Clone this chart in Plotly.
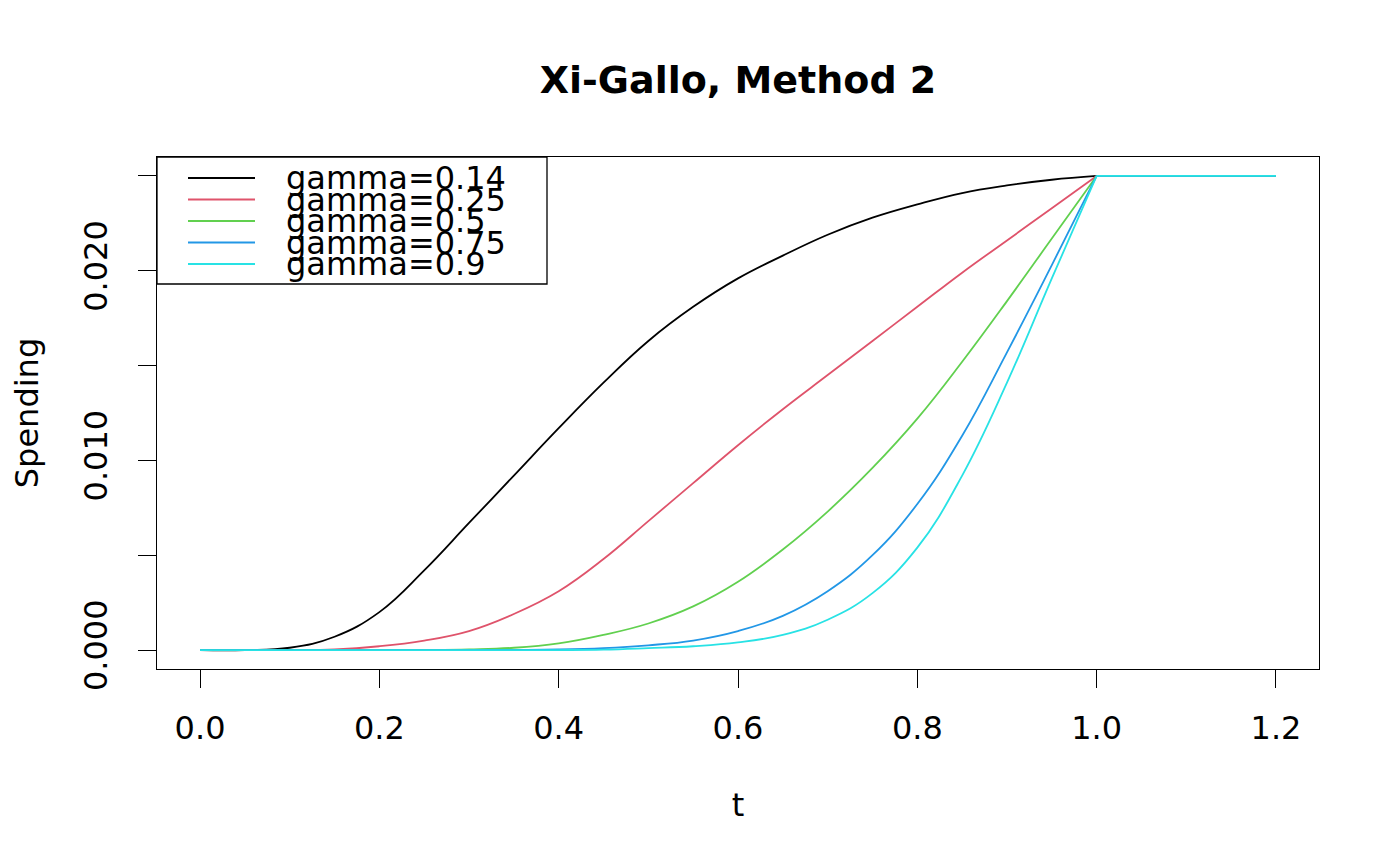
import plotly.graph_objects as go

# ---- data ----
t_vals = [0.0, 0.05, 0.1, 0.15, 0.2, 0.25, 0.3, 0.35, 0.4, 0.45, 0.5,
          0.55, 0.6, 0.65, 0.7, 0.75, 0.8, 0.85, 0.9, 0.95, 1.0, 1.2]

g014 = [0, 0, 0.00012, 0.0007, 0.0020, 0.0042, 0.0067, 0.0092, 0.0117, 0.0141, 0.0163,
        0.0181, 0.0196, 0.0208, 0.0219, 0.0228, 0.0235, 0.0241, 0.0245, 0.0248, 0.025, 0.025]
g025 = [0, 0, 0, 0.00003, 0.0002, 0.0005, 0.0010, 0.0019, 0.0031, 0.0048, 0.0068,
        0.0088, 0.0108, 0.0127, 0.0145, 0.0163, 0.0181, 0.0199, 0.0216, 0.0233, 0.025, 0.025]
g050 = [0, 0, 0, 0, 0, 0.00001, 0.00004, 0.00012, 0.00035, 0.0008, 0.0014,
        0.0023, 0.0036, 0.0053, 0.0073, 0.0096, 0.0122, 0.0152, 0.0184, 0.0217, 0.025, 0.025]
g075 = [0, 0, 0, 0, 0, 0, 0, 0.00001, 0.00003, 0.0001, 0.00025,
        0.0005, 0.0010, 0.0018, 0.0031, 0.0050, 0.0077, 0.0113, 0.0157, 0.0203, 0.025, 0.025]
g090 = [0, 0, 0, 0, 0, 0, 0, 0, 0, 0.00002, 0.0001,
        0.0002, 0.0004, 0.0008, 0.0016, 0.0030, 0.0054, 0.0092, 0.0141, 0.0196, 0.025, 0.025]

series_names = ["gamma=0.14", "gamma=0.25", "gamma=0.5", "gamma=0.75", "gamma=0.9"]
series_vals = [g014, g025, g050, g075, g090]
colors = ["#000000", "#DF536B", "#61D04F", "#2297E6", "#28E2E5"]

y_tickvals = [0.0, 0.005, 0.010, 0.015, 0.020, 0.025]
y_ticktext = ["0.000", "", "0.010", "", "0.020", ""]
x_tickvals = [0.0, 0.2, 0.4, 0.6, 0.8, 1.0, 1.2]
x_ticktext = ["0.0", "0.2", "0.4", "0.6", "0.8", "1.0", "1.2"]

FONT = "DejaVu Sans"
FS = 32
OFF = 8  # page offset of the figure inside the browser window
W, H = 1384, 850
L, T = 157 - OFF, 157 - OFF
R = W - (1319 - OFF)
B = H - (669 - OFF)
pw, ph = W - L - R, H - T - B

fig = go.Figure()
for name, vals, col in zip(series_names, series_vals, colors):
    # curved part up to t = 1
    fig.add_trace(go.Scatter(x=t_vals[:-1], y=vals[:-1], mode="lines", name=name,
                             line=dict(color=col, width=1.8, shape="spline", smoothing=1.2),
                             showlegend=False))
    # flat part after t = 1
    fig.add_trace(go.Scatter(x=t_vals[-2:], y=vals[-2:], mode="lines", name=name,
                             line=dict(color=col, width=1.8), showlegend=False))

def px2paper_x(px):
    return (px - OFF - L) / pw

def py2paper_y(py):
    return (H - B - (py - OFF)) / ph

shapes = []
annotations = []
# legend box
shapes.append(dict(type="rect", xref="paper", yref="paper",
                   x0=0, x1=px2paper_x(547), y0=py2paper_y(284), y1=1.0,
                   line=dict(color="black", width=1.3), fillcolor="white", layer="below"))
row_py = [178, 199.5, 221, 242.5, 264]
for name, col, rp in zip(series_names, colors, row_py):
    shapes.append(dict(type="line", xref="paper", yref="paper",
                       x0=px2paper_x(188), x1=px2paper_x(255),
                       y0=py2paper_y(rp), y1=py2paper_y(rp),
                       line=dict(color=col, width=1.8)))
    annotations.append(dict(xref="paper", yref="paper", x=px2paper_x(284), y=py2paper_y(rp),
                            text=name, showarrow=False, xanchor="left", yanchor="middle",
                            font=dict(family=FONT, size=FS, color="black")))

fig.update_layout(
    width=W, height=H,
    margin=dict(l=L, r=R, t=T, b=B, autoexpand=False),
    paper_bgcolor="white", plot_bgcolor="white",
    font=dict(family=FONT, size=FS, color="black"),
    title=dict(text="<b>Xi-Gallo, Method 2</b>", x=(L + pw / 2) / W, xanchor="center",
               y=1 - (80 - OFF) / H, yanchor="middle",
               font=dict(family=FONT, size=38, color="black")),
    showlegend=False,
    shapes=shapes,
    annotations=annotations,
    xaxis=dict(range=[-0.048, 1.248], tickvals=x_tickvals, ticktext=x_ticktext,
               showgrid=False, zeroline=False, showline=True, mirror=True,
               linecolor="black", linewidth=1.3, ticks="outside", ticklen=18,
               tickwidth=1.3, tickcolor="black", ticklabelstandoff=12,
               tickfont=dict(family=FONT, size=FS, color="black"),
               title=dict(text="t", standoff=48, font=dict(family=FONT, size=FS, color="black"))),
    yaxis=dict(range=[-0.001, 0.026], tickvals=y_tickvals, ticktext=y_ticktext,
               showgrid=False, zeroline=False, showline=True, mirror=True,
               linecolor="black", linewidth=1.3, ticks="outside", ticklen=18,
               tickwidth=1.3, tickcolor="black", tickangle=-90, ticklabelstandoff=18,
               tickfont=dict(family=FONT, size=FS, color="black"),
               title=dict(text="Spending", standoff=36, font=dict(family=FONT, size=FS, color="black"))),
)

fig.write_html("out.html")
